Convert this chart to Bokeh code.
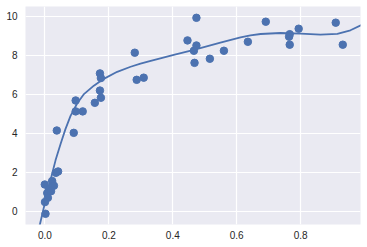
from bokeh.plotting import figure
from bokeh.models import FixedTicker, PrintfTickFormatter, Range1d
from bokeh.embed import file_html
from bokeh.resources import INLINE

# scattered observations
pts_x = [-0.0006, 0.0225, 0.028, 0.012, 0.007, 0.019, 0.009, 0.0, 0.0016, 0.034,
         0.041, 0.037, 0.090, 0.096, 0.096, 0.118, 0.156, 0.172, 0.175, 0.172,
         0.175, 0.281, 0.287, 0.309, 0.446, 0.474, 0.474, 0.466, 0.468, 0.516,
         0.560, 0.635, 0.691, 0.764, 0.766, 0.766, 0.794, 0.910, 0.932]
pts_y = [1.38, 1.56, 1.32, 1.15, 0.94, 1.04, 0.70, 0.48, -0.12, 1.98,
         2.05, 4.15, 4.03, 5.69, 5.13, 5.13, 5.57, 7.08, 6.84, 6.20,
         5.83, 8.14, 6.75, 6.86, 8.77, 9.93, 8.51, 8.24, 7.62, 7.83,
         8.24, 8.70, 9.73, 8.96, 9.09, 8.55, 9.37, 9.68, 8.55]

# fitted model curve
fit_x = [-0.025, -0.016, 0.0016, 0.017, 0.033, 0.049, 0.064, 0.080, 0.101, 0.121,
         0.153, 0.184, 0.226, 0.268, 0.299, 0.325, 0.403, 0.466, 0.549, 0.612,
         0.643, 0.675, 0.737, 0.800, 0.862, 0.915, 0.956, 0.990]
fit_y = [-1.0, -0.67, 0.56, 1.59, 2.62, 3.47, 4.22, 4.90, 5.55, 6.00,
         6.45, 6.80, 7.16, 7.42, 7.58, 7.70, 8.03, 8.28, 8.66, 8.93,
         9.03, 9.10, 9.15, 9.12, 9.07, 9.11, 9.29, 9.56]

x_ticks = [0.0, 0.2, 0.4, 0.6, 0.8]
y_ticks = [0, 2, 4, 6, 8, 10]

p = figure(width=367, height=247, output_backend="svg", toolbar_location=None,
           x_range=Range1d(-0.061, 0.9875), y_range=Range1d(-0.67, 10.51),
           min_border_left=25, min_border_right=7, min_border_top=6,
           min_border_bottom=23)
p.background_fill_color = "#EAEAF2"
p.border_fill_color = "white"
p.outline_line_color = None

p.line(fit_x, fit_y, line_color="#4C72B0", line_width=1.8, line_join="round")
p.scatter(pts_x, pts_y, size=7.5, fill_color="#4C72B0", line_color="#4C72B0")

for ax in (p.xaxis[0], p.yaxis[0]):
    ax.axis_line_color = None
    ax.major_tick_line_color = None
    ax.minor_tick_line_color = None
    ax.major_tick_out = 0
    ax.major_tick_in = 0
    ax.minor_tick_out = 0
    ax.minor_tick_in = 0
    ax.major_label_text_font = "Liberation Sans"
    ax.major_label_text_font_size = "10px"
    ax.major_label_text_color = "#262626"
p.xaxis[0].ticker = FixedTicker(ticks=x_ticks)
p.yaxis[0].ticker = FixedTicker(ticks=y_ticks)
p.xaxis[0].formatter = PrintfTickFormatter(format="%.1f")
p.yaxis[0].formatter = PrintfTickFormatter(format="%d")
p.xaxis[0].major_label_standoff = 6
p.yaxis[0].major_label_standoff = 8

p.xgrid.ticker = FixedTicker(ticks=x_ticks)
p.ygrid.ticker = FixedTicker(ticks=y_ticks)
p.grid.grid_line_color = "white"
p.grid.grid_line_width = 1.2

open("out.html", "w").write(file_html(p, INLINE))
